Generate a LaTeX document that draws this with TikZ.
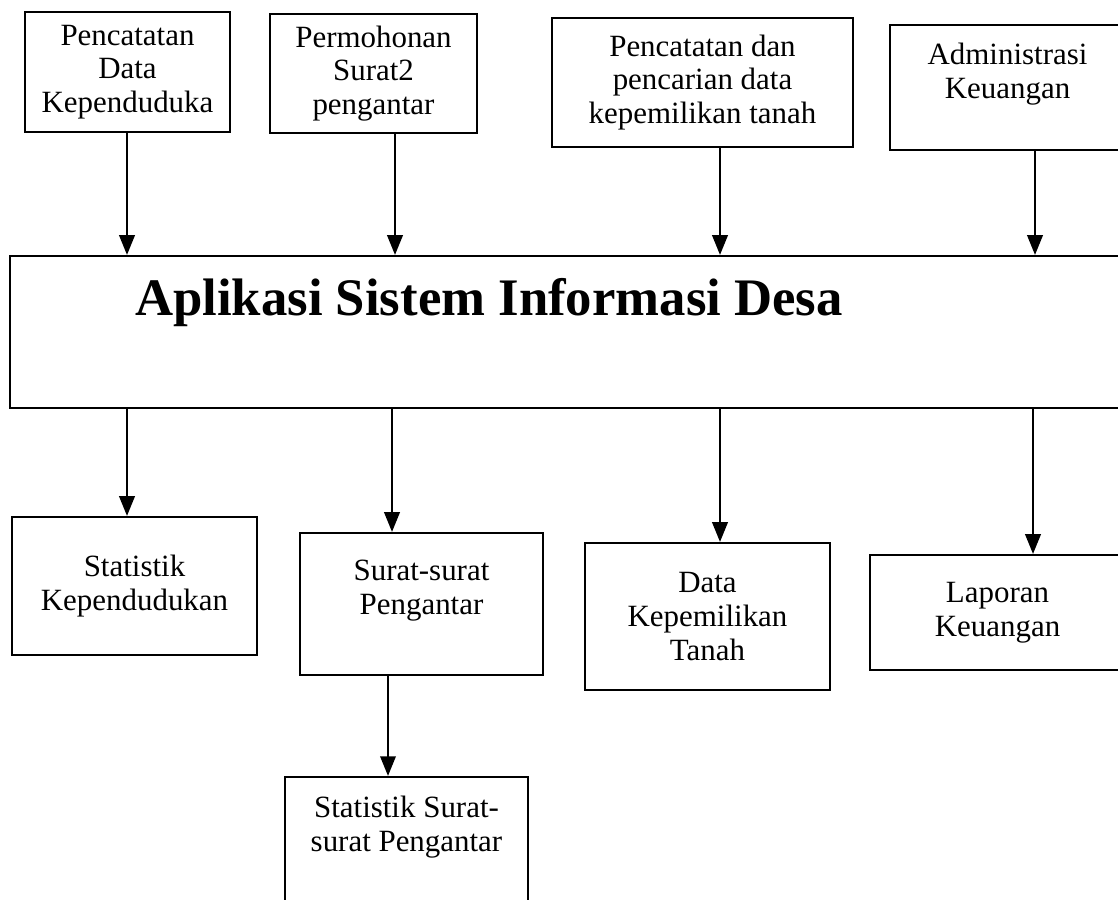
\documentclass[tikz,border=0pt]{standalone}
\usepackage{fontspec}
\setmainfont{Liberation Serif}
\usepackage{tikz}
\usetikzlibrary{arrows.meta,positioning,calc}

\tikzset{
  modbox/.style={draw, line width=1.5pt, align=center, inner sep=0pt,
                 font=\fontsize{22}{24}\selectfont},
  arr/.style={line width=1.5pt, -{Triangle[length=14pt,width=11pt]}}
}

\begin{document}
\begin{tikzpicture}[x=0.025cm,y=-0.025cm]
  \clip (0,0) rectangle (1118,900);
  \fill[white] (0,0) rectangle (1118,900);
  % Input modules
  \node[modbox, minimum width=5.125cm, minimum height=3cm] (t1) at (127.5,72)
       {Pencatatan\\Data\\Kependuduka};
  \node[modbox, minimum width=5.175cm, minimum height=2.975cm] (t2) at (373.5,73.5)
       {Permohonan\\Surat2\\pengantar};
  \node[modbox, minimum width=7.525cm, minimum height=3.225cm] (t3) at (702.5,82.5)
       {Pencatatan dan\\pencarian data\\kepemilikan tanah};
  \node[modbox, minimum width=5.875cm, minimum height=3.125cm] (t4) at (1007.5,87.5)
       {Administrasi\\Keuangan\\\mbox{}};
  % Main application
  \node[draw, line width=1.5pt, minimum width=28cm, minimum height=3.8cm] (app) at (570,332) {};
  \node[font=\fontsize{37.5}{42}\selectfont\bfseries] (apptitle) at (489,303)
       {Aplikasi Sistem Informasi Desa};
  % Outputs
  \node[modbox, minimum width=6.125cm, minimum height=3.45cm] (b1) at (134.5,586)
       {Statistik\\Kependudukan};
  \node[modbox, minimum width=6.075cm, minimum height=3.55cm] (b2) at (421.5,604)
       {Surat-surat\\Pengantar\\\mbox{}};
  \node[modbox, minimum width=6.125cm, minimum height=3.675cm] (b3) at (707.5,616.5)
       {Data\\Kepemilikan\\Tanah};
  \node[modbox, minimum width=6.375cm, minimum height=2.875cm] (b4) at (997.5,612.5)
       {Laporan\\Keuangan};
  \node[modbox, minimum width=6.075cm, minimum height=3.2cm] (b5) at (406.5,841)
       {Statistik Surat-\\surat Pengantar\\\mbox{}};
  % Connectors
  \foreach \src/\xx in {t1/127, t2/395, t3/720, t4/1035}
    \draw[arr] (\src.south -| \xx,0) -- (app.north -| \xx,0);
  \foreach \dst/\xx in {b1/127, b2/392, b3/720, b4/1033}
    \draw[arr] (app.south -| \xx,0) -- (\dst.north -| \xx,0);
  \draw[arr] (b2.south -| 388,0) -- (b5.north -| 388,0);
\end{tikzpicture}
\end{document}
